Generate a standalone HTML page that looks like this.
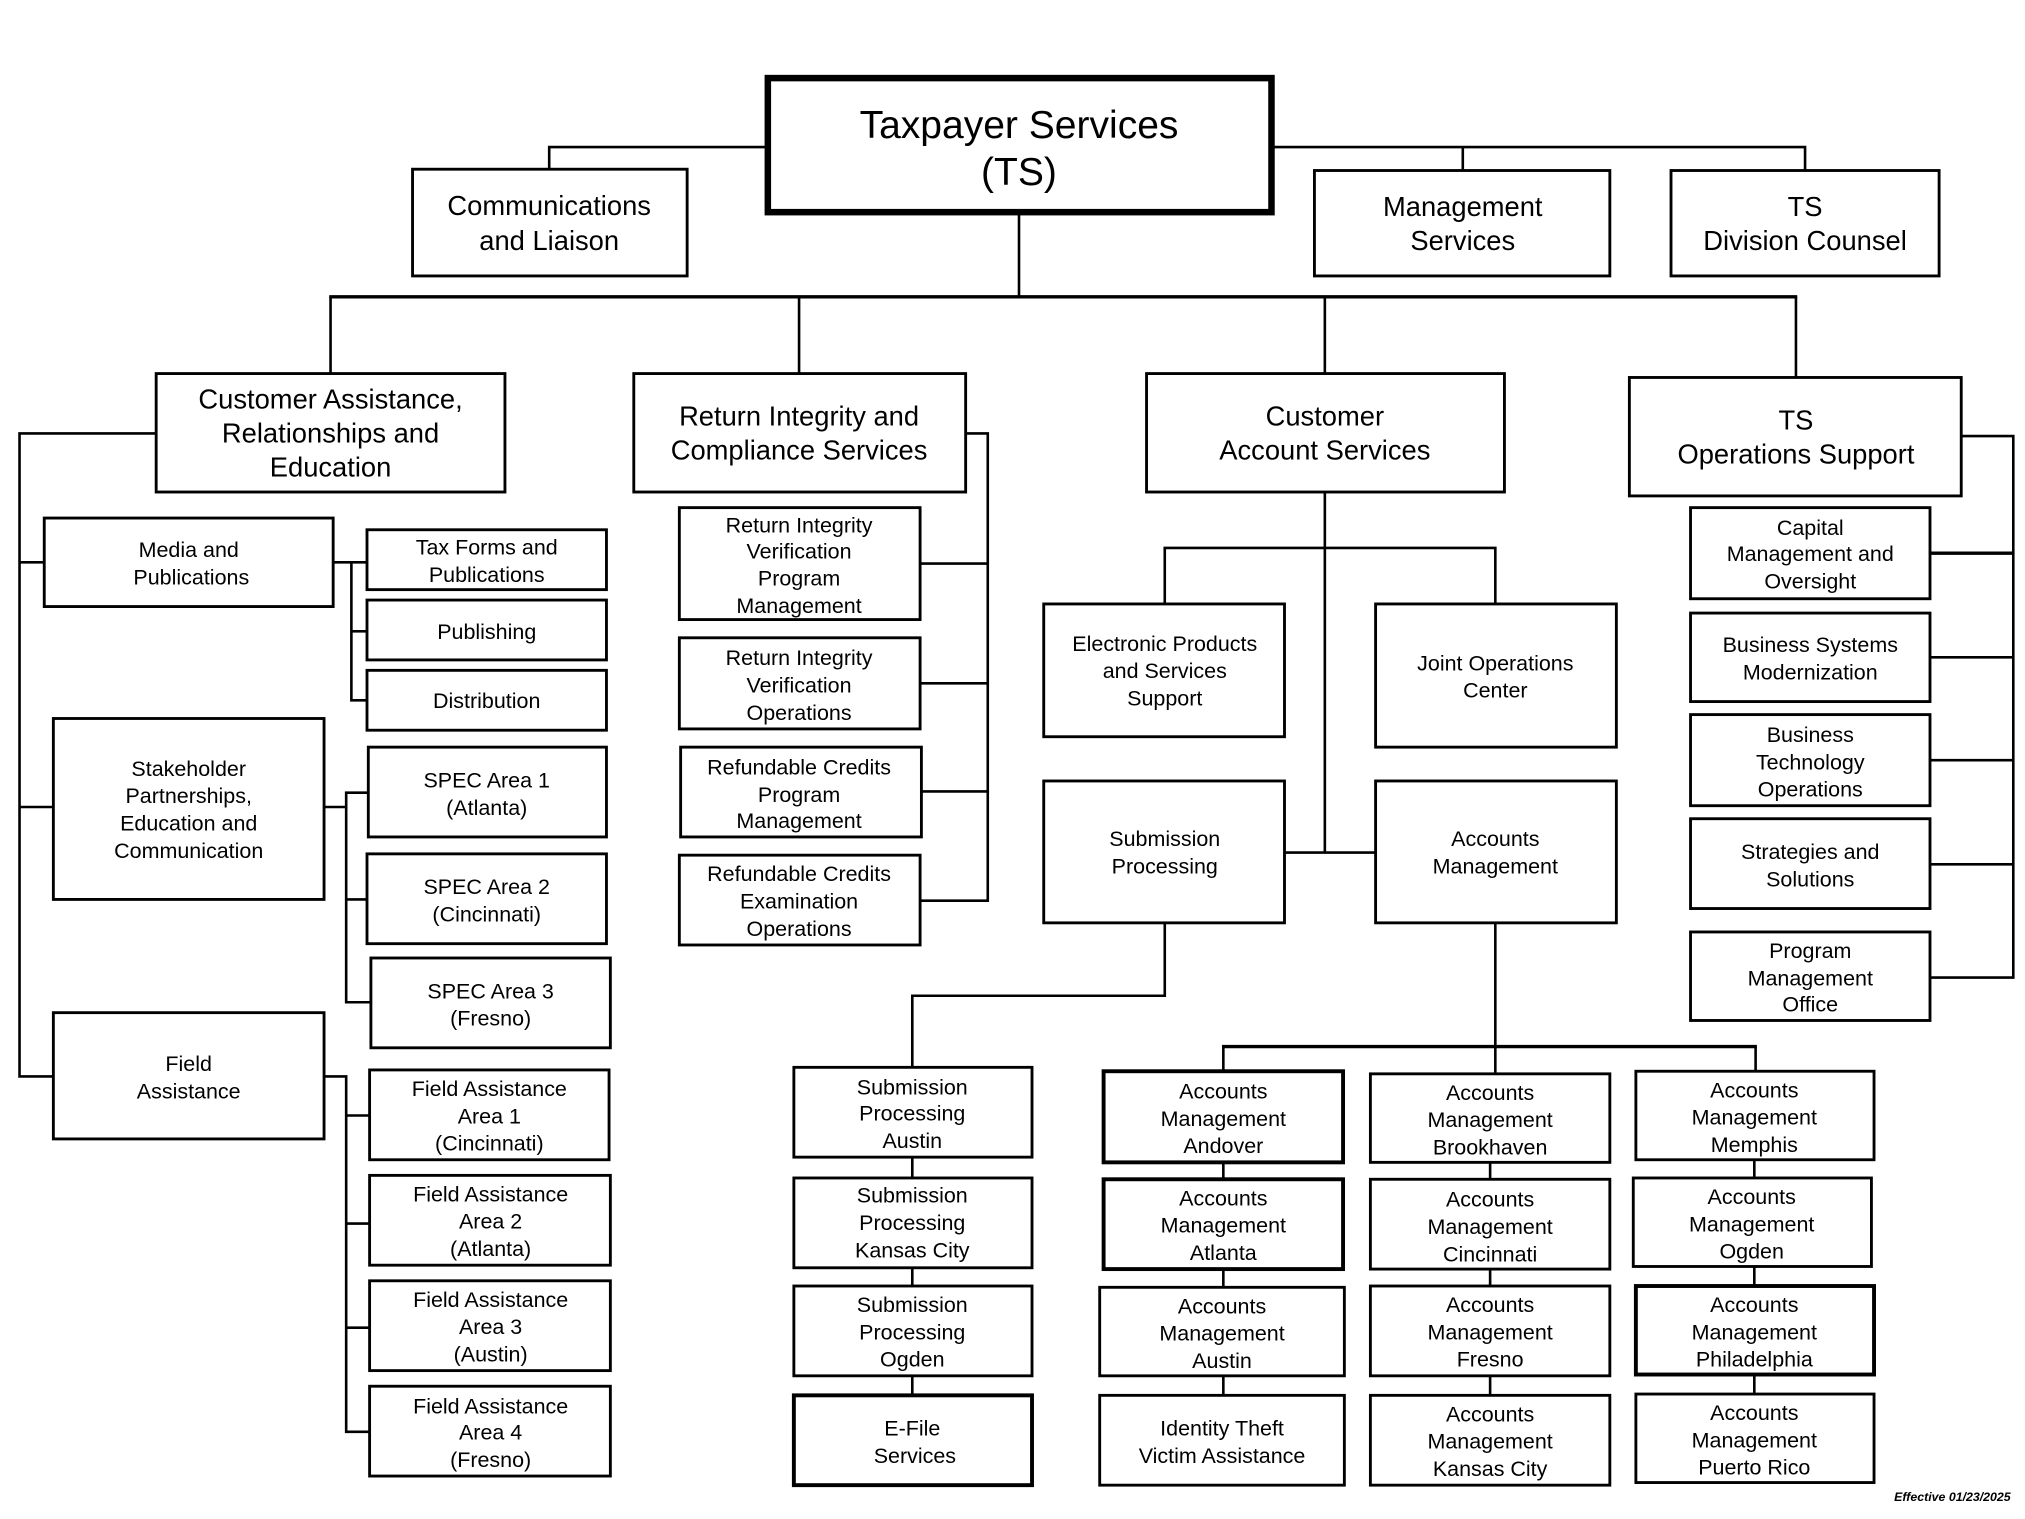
<!DOCTYPE html>
<html><head><meta charset="utf-8"><style>
html,body{margin:0;padding:0;background:#fff;width:2025px;height:1519px;overflow:hidden}
svg{display:block}
text{font-family:"Liberation Sans",Arial,sans-serif;fill:#000;text-anchor:middle}
.s{font-size:16.5px}.m{font-size:21px}
rect{fill:#fff;stroke:#000;stroke-width:2.2}
line,polyline{stroke:#000;stroke-width:2;fill:none}
</style></head><body>
<svg width="2025" height="1519" viewBox="0 0 1556 1167" preserveAspectRatio="none">
<!-- connectors -->
<polyline points="590,113 422,113 422,130"/>
<polyline points="977,113 1387,113 1387,131"/>
<line x1="1124" y1="113" x2="1124" y2="131"/>
<line x1="783" y1="163" x2="783" y2="228"/>
<line x1="253" y1="228" x2="1381" y2="228" style="stroke-width:2.6"/>
<line x1="254" y1="228" x2="254" y2="287"/>
<line x1="614" y1="228" x2="614" y2="287"/>
<line x1="1018" y1="228" x2="1018" y2="287"/>
<line x1="1380" y1="228" x2="1380" y2="290"/>
<!-- CARE -->
<polyline points="120,333 15,333 15,827 41,827"/>
<line x1="15" y1="432" x2="34" y2="432"/>
<line x1="15" y1="620" x2="41" y2="620"/>
<line x1="256" y1="432" x2="282" y2="432"/>
<polyline points="270,432 270,538 282,538"/>
<line x1="270" y1="485" x2="282" y2="485"/>
<polyline points="249,620 266,620"/>
<polyline points="283,609 266,609 266,770 285,770"/>
<line x1="266" y1="691" x2="282" y2="691"/>
<polyline points="249,827 266,827 266,1100 284,1100"/>
<line x1="266" y1="857" x2="284" y2="857"/>
<line x1="266" y1="940" x2="284" y2="940"/>
<line x1="266" y1="1020" x2="284" y2="1020"/>
<!-- RICS -->
<polyline points="742,333 759,333 759,692 707,692"/>
<line x1="707" y1="433" x2="759" y2="433"/>
<line x1="707" y1="525" x2="759" y2="525"/>
<line x1="707" y1="608" x2="759" y2="608"/>
<!-- CAS -->
<line x1="1018" y1="378" x2="1018" y2="655"/>
<polyline points="895,464 895,421 1149,421 1149,464"/>
<line x1="987" y1="655" x2="1057" y2="655"/>
<polyline points="895,709 895,765 701,765 701,820"/>
<line x1="701" y1="889" x2="701" y2="1072"/>
<line x1="1149" y1="709" x2="1149" y2="825"/>
<line x1="939" y1="804" x2="1350" y2="804" style="stroke-width:2.6"/>
<line x1="940" y1="804" x2="940" y2="823"/>
<line x1="1349" y1="804" x2="1349" y2="823"/>
<line x1="940" y1="893" x2="940" y2="1072"/>
<line x1="1145" y1="893" x2="1145" y2="1072"/>
<line x1="1348" y1="891" x2="1348" y2="1071"/>
<!-- TSOS -->
<polyline points="1507,335 1547,335 1547,751 1483,751"/>
<line x1="1483" y1="425" x2="1547" y2="425" style="stroke-width:2.6"/>
<line x1="1483" y1="505" x2="1547" y2="505"/>
<line x1="1483" y1="584" x2="1547" y2="584"/>
<line x1="1483" y1="664" x2="1547" y2="664"/>

<!-- top -->
<rect x="590" y="60" width="387" height="103" style="stroke-width:5"/>
<text x="783" y="106" style="font-size:30px">Taxpayer Services</text>
<text x="783" y="142" style="font-size:30px">(TS)</text>
<rect x="317" y="130" width="211" height="82"/>
<text class="m" x="422" y="165">Communications</text><text class="m" x="422" y="192">and Liaison</text>
<rect x="1010" y="131" width="227" height="81"/>
<text class="m" x="1124" y="166">Management</text><text class="m" x="1124" y="192">Services</text>
<rect x="1284" y="131" width="206" height="81"/>
<text class="m" x="1387" y="166">TS</text><text class="m" x="1387" y="192">Division Counsel</text>

<!-- level 2 -->
<rect x="120" y="287" width="268" height="91"/>
<text class="m" x="254" y="314">Customer Assistance,</text><text class="m" x="254" y="340">Relationships and</text><text class="m" x="254" y="366">Education</text>
<rect x="487" y="287" width="255" height="91"/>
<text class="m" x="614" y="327">Return Integrity and</text><text class="m" x="614" y="353">Compliance Services</text>
<rect x="881" y="287" width="275" height="91"/>
<text class="m" x="1018" y="327">Customer</text><text class="m" x="1018" y="353">Account Services</text>
<rect x="1252" y="290" width="255" height="91"/>
<text class="m" x="1380" y="330">TS</text><text class="m" x="1380" y="356">Operations Support</text>

<!-- CARE children -->
<rect x="34" y="398" width="222" height="68"/>
<text class="s" x="145" y="428">Media and</text><text class="s" x="147" y="449">Publications</text>
<rect x="41" y="552" width="208" height="139"/>
<text class="s" x="145" y="596">Stakeholder</text><text class="s" x="145" y="617">Partnerships,</text><text class="s" x="145" y="638">Education and</text><text class="s" x="145" y="659">Communication</text>
<rect x="41" y="778" width="208" height="97"/>
<text class="s" x="145" y="823">Field</text><text class="s" x="145" y="844">Assistance</text>
<rect x="282" y="407" width="184" height="46"/>
<text class="s" x="374" y="426">Tax Forms and</text><text class="s" x="374" y="447">Publications</text>
<rect x="282" y="461" width="184" height="46"/><text class="s" x="374" y="491">Publishing</text>
<rect x="282" y="515" width="184" height="46"/><text class="s" x="374" y="544">Distribution</text>
<rect x="283" y="574" width="183" height="69"/>
<text class="s" x="374" y="605">SPEC Area 1</text><text class="s" x="374" y="626">(Atlanta)</text>
<rect x="282" y="656" width="184" height="69"/>
<text class="s" x="374" y="687">SPEC Area 2</text><text class="s" x="374" y="708">(Cincinnati)</text>
<rect x="285" y="736" width="184" height="69"/>
<text class="s" x="377" y="767">SPEC Area 3</text><text class="s" x="377" y="788">(Fresno)</text>
<rect x="284" y="822" width="184" height="69"/>
<text class="s" x="376" y="842">Field Assistance</text><text class="s" x="376" y="863">Area 1</text><text class="s" x="376" y="884">(Cincinnati)</text>
<rect x="284" y="903" width="185" height="69"/>
<text class="s" x="377" y="923">Field Assistance</text><text class="s" x="377" y="944">Area 2</text><text class="s" x="377" y="965">(Atlanta)</text>
<rect x="284" y="984" width="185" height="69"/>
<text class="s" x="377" y="1004">Field Assistance</text><text class="s" x="377" y="1025">Area 3</text><text class="s" x="377" y="1046">(Austin)</text>
<rect x="284" y="1065" width="185" height="69"/>
<text class="s" x="377" y="1086">Field Assistance</text><text class="s" x="377" y="1106">Area 4</text><text class="s" x="377" y="1127">(Fresno)</text>

<!-- RICS children -->
<rect x="522" y="390" width="185" height="86"/>
<text class="s" x="614" y="409">Return Integrity</text><text class="s" x="614" y="429">Verification</text><text class="s" x="614" y="450">Program</text><text class="s" x="614" y="471">Management</text>
<rect x="522" y="490" width="185" height="70"/>
<text class="s" x="614" y="511">Return Integrity</text><text class="s" x="614" y="532">Verification</text><text class="s" x="614" y="553">Operations</text>
<rect x="523" y="574" width="185" height="69"/>
<text class="s" x="614" y="595">Refundable Credits</text><text class="s" x="614" y="616">Program</text><text class="s" x="614" y="636">Management</text>
<rect x="522" y="657" width="185" height="69"/>
<text class="s" x="614" y="677">Refundable Credits</text><text class="s" x="614" y="698">Examination</text><text class="s" x="614" y="719">Operations</text>

<!-- CAS children -->
<rect x="802" y="464" width="185" height="102"/>
<text class="s" x="895" y="500">Electronic Products</text><text class="s" x="895" y="521">and Services</text><text class="s" x="895" y="542">Support</text>
<rect x="1057" y="464" width="185" height="110"/>
<text class="s" x="1149" y="515">Joint Operations</text><text class="s" x="1149" y="536">Center</text>
<rect x="802" y="600" width="185" height="109"/>
<text class="s" x="895" y="650">Submission</text><text class="s" x="895" y="671">Processing</text>
<rect x="1057" y="600" width="185" height="109"/>
<text class="s" x="1149" y="650">Accounts</text><text class="s" x="1149" y="671">Management</text>

<rect x="610" y="820" width="183" height="69"/>
<text class="s" x="701" y="841">Submission</text><text class="s" x="701" y="861">Processing</text><text class="s" x="701" y="882">Austin</text>
<rect x="610" y="905" width="183" height="69"/>
<text class="s" x="701" y="924">Submission</text><text class="s" x="701" y="945">Processing</text><text class="s" x="701" y="966">Kansas City</text>
<rect x="610" y="988" width="183" height="69"/>
<text class="s" x="701" y="1008">Submission</text><text class="s" x="701" y="1029">Processing</text><text class="s" x="701" y="1050">Ogden</text>
<rect x="610" y="1072" width="183" height="69" style="stroke-width:3"/>
<text class="s" x="701" y="1103">E-File</text><text class="s" x="703" y="1124">Services</text>

<rect x="848" y="823" width="184" height="70" style="stroke-width:3"/>
<text class="s" x="940" y="844">Accounts</text><text class="s" x="940" y="865">Management</text><text class="s" x="940" y="886">Andover</text>
<rect x="848" y="906" width="184" height="69" style="stroke-width:3"/>
<text class="s" x="940" y="926">Accounts</text><text class="s" x="940" y="947">Management</text><text class="s" x="940" y="968">Atlanta</text>
<rect x="845" y="989" width="188" height="68"/>
<text class="s" x="939" y="1009">Accounts</text><text class="s" x="939" y="1030">Management</text><text class="s" x="939" y="1051">Austin</text>
<rect x="845" y="1072" width="188" height="69"/>
<text class="s" x="939" y="1103">Identity Theft</text><text class="s" x="939" y="1124">Victim Assistance</text>

<rect x="1053" y="825" width="184" height="68"/>
<text class="s" x="1145" y="845">Accounts</text><text class="s" x="1145" y="866">Management</text><text class="s" x="1145" y="887">Brookhaven</text>
<rect x="1053" y="906" width="184" height="69"/>
<text class="s" x="1145" y="927">Accounts</text><text class="s" x="1145" y="948">Management</text><text class="s" x="1145" y="969">Cincinnati</text>
<rect x="1053" y="988" width="184" height="69"/>
<text class="s" x="1145" y="1008">Accounts</text><text class="s" x="1145" y="1029">Management</text><text class="s" x="1145" y="1050">Fresno</text>
<rect x="1053" y="1072" width="184" height="69"/>
<text class="s" x="1145" y="1092">Accounts</text><text class="s" x="1145" y="1113">Management</text><text class="s" x="1145" y="1134">Kansas City</text>

<rect x="1257" y="823" width="183" height="68"/>
<text class="s" x="1348" y="843">Accounts</text><text class="s" x="1348" y="864">Management</text><text class="s" x="1348" y="885">Memphis</text>
<rect x="1255" y="905" width="183" height="68"/>
<text class="s" x="1346" y="925">Accounts</text><text class="s" x="1346" y="946">Management</text><text class="s" x="1346" y="967">Ogden</text>
<rect x="1257" y="988" width="183" height="68" style="stroke-width:3"/>
<text class="s" x="1348" y="1008">Accounts</text><text class="s" x="1348" y="1029">Management</text><text class="s" x="1348" y="1050">Philadelphia</text>
<rect x="1257" y="1071" width="183" height="68"/>
<text class="s" x="1348" y="1091">Accounts</text><text class="s" x="1348" y="1112">Management</text><text class="s" x="1348" y="1133">Puerto Rico</text>

<!-- TSOS children -->
<rect x="1299" y="390" width="184" height="70"/>
<text class="s" x="1391" y="411">Capital</text><text class="s" x="1391" y="431">Management and</text><text class="s" x="1391" y="452">Oversight</text>
<rect x="1299" y="471" width="184" height="68"/>
<text class="s" x="1391" y="501">Business Systems</text><text class="s" x="1391" y="522">Modernization</text>
<rect x="1299" y="549" width="184" height="70"/>
<text class="s" x="1391" y="570">Business</text><text class="s" x="1391" y="591">Technology</text><text class="s" x="1391" y="612">Operations</text>
<rect x="1299" y="629" width="184" height="69"/>
<text class="s" x="1391" y="660">Strategies and</text><text class="s" x="1391" y="681">Solutions</text>
<rect x="1299" y="716" width="184" height="68"/>
<text class="s" x="1391" y="736">Program</text><text class="s" x="1391" y="757">Management</text><text class="s" x="1391" y="777">Office</text>

<text x="1545" y="1153" style="font-size:9.5px;font-weight:bold;font-style:italic;text-anchor:end">Effective 01/23/2025</text>
</svg>
</body></html>
